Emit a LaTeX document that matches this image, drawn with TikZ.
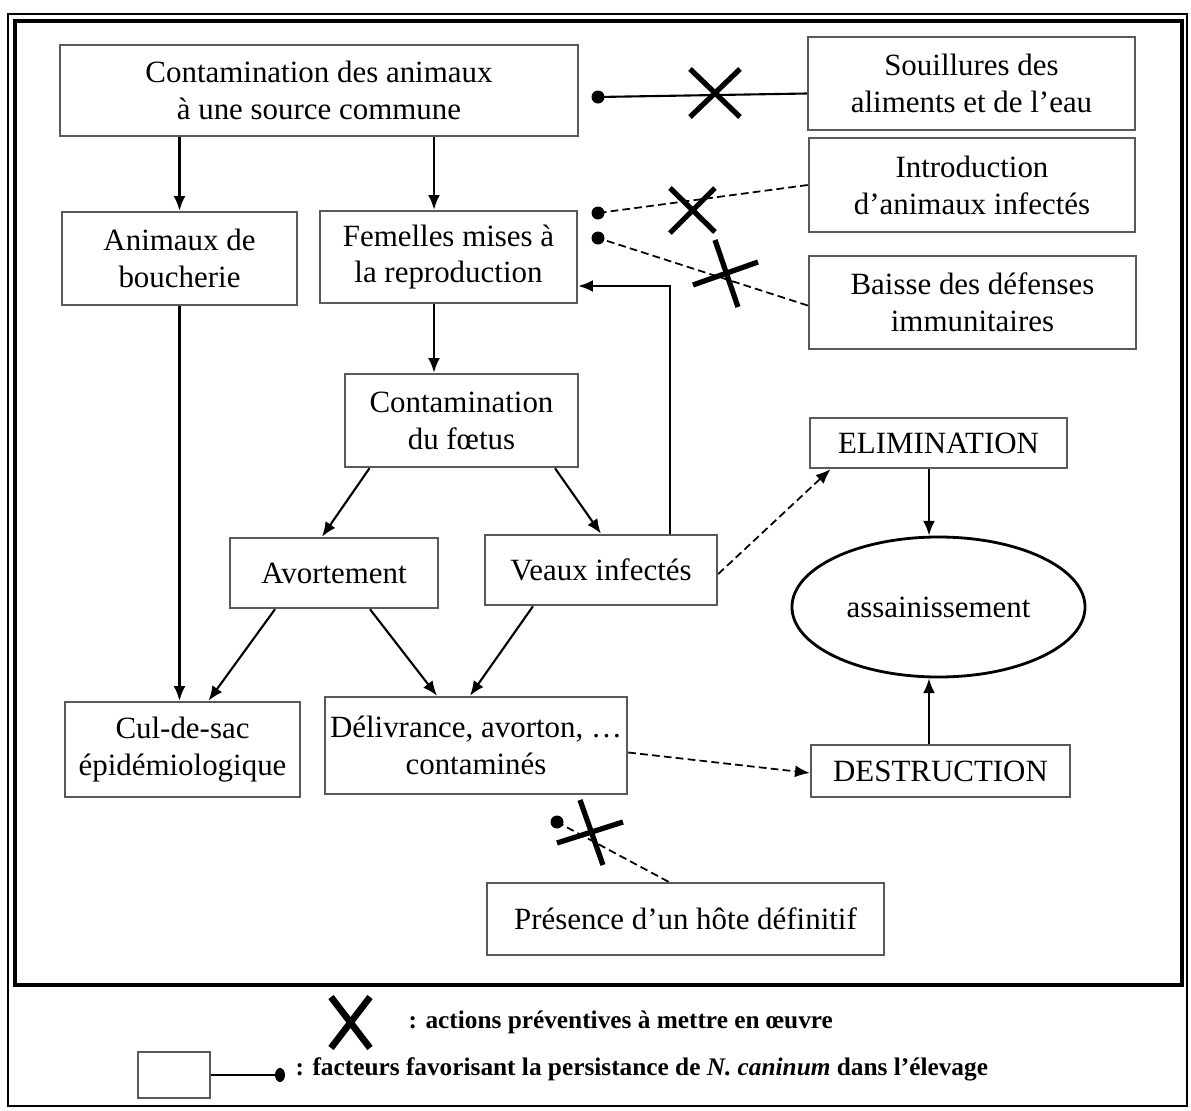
\documentclass[tikz,border=0pt]{standalone}
\usepackage{fontspec}
\setmainfont{Liberation Serif}
\usetikzlibrary{arrows.meta,shapes.geometric}
\newcommand{\txtsz}{\fontsize{8.8}{10.5}\selectfont}
\newcommand{\legsz}{\fontsize{7.2}{9}\selectfont\bfseries}

\begin{document}
\begin{tikzpicture}[
		>={Latex[length=4.2pt,width=3.4pt]},
		box/.style={draw=black!65, line width=0.7pt, align=center, inner sep=0pt, font=\txtsz},
		fleche/.style={->, line width=0.6pt},
		pointille/.style={line width=0.5pt, dash pattern=on 2.2pt off 1.2pt},
		croix/.style={line width=1.5pt},
		point/.style={fill=black}
	]
				
				\useasboundingbox (0,0) rectangle (11.91,-11.11);
				\draw[line width=0.6pt] (0.08,-0.14) rectangle (11.87,-11.06);
				\draw[line width=1.4pt] (0.15,-0.21) rectangle (11.82,-9.85);
				
				\node[box, minimum width=5.18cm, minimum height=0.91cm] (src) at (3.19,-0.905) {Contamination des animaux\\à une source commune};
				\node[box, minimum width=3.27cm, minimum height=0.93cm] (souil) at (9.715,-0.835) {Souillures des\\aliments et de l’eau};
				\node[box, minimum width=3.26cm, minimum height=0.94cm] (intro) at (9.72,-1.85) {Introduction\\d’animaux infectés};
				\node[box, minimum width=3.27cm, minimum height=0.93cm] (baisse) at (9.725,-3.025) {Baisse des défenses\\immunitaires};
				
				\node[box, minimum width=2.35cm, minimum height=0.93cm] (bouch) at (1.795,-2.585) {Animaux de\\boucherie};
				\node[box, minimum width=2.57cm, minimum height=0.92cm] (fem) at (4.485,-2.57) {Femelles mises à\\la reproduction};
				\node[box, minimum width=2.33cm, minimum height=0.93cm] (foetus) at (4.615,-4.205) {Contamination\\du fœtus};
				\node[box, minimum width=2.57cm, minimum height=0.50cm] (elim) at (9.385,-4.43) {ELIMINATION};
				
				\node[box, minimum width=2.08cm, minimum height=0.70cm] (avort) at (3.34,-5.73) {Avortement};
				\node[box, minimum width=2.32cm, minimum height=0.70cm] (veaux) at (6.01,-5.70) {Veaux infectés};
				\node[draw, ellipse, line width=0.8pt, minimum width=2.6cm, minimum height=1.4cm, font=\txtsz] (assain) at (9.385,-6.07) {assainissement};
				
				\node[box, minimum width=2.35cm, minimum height=0.95cm] (culdesac) at (1.825,-7.495) {Cul-de-sac\\épidémiologique};
				\node[box, minimum width=3.02cm, minimum height=0.97cm] (deliv) at (4.76,-7.455) {Délivrance, avorton, …\\contaminés};
				\node[box, minimum width=2.59cm, minimum height=0.52cm] (destr) at (9.405,-7.71) {DESTRUCTION};
				\node[box, minimum width=3.97cm, minimum height=0.72cm] (hote) at (6.855,-9.19) {Présence d’un hôte définitif};
				
				\draw[fleche] (src.south -| bouch.north) -- (bouch.north);
				\draw[fleche] (src.south -| 4.34,0) -- (fem.north -| 4.34,0);
				\draw[fleche] (fem.south -| 4.34,0) -- (foetus.north -| 4.34,0);
				\draw[fleche] ([xshift=-0.92cm]foetus.south) -- ([xshift=-0.12cm]avort.north);
				\draw[fleche] ([xshift=0.935cm]foetus.south) -- (veaux.north);
				\draw[fleche] (veaux.north -| 6.70,0) |- ([yshift=-0.29cm]fem.east);
				\draw[fleche] (bouch.south) -- (culdesac.north -| bouch.south);
				\draw[fleche] ([xshift=-0.59cm]avort.south) -- ([xshift=0.26cm]culdesac.north);
				\draw[fleche] ([xshift=0.36cm]avort.south) -- ([xshift=-0.39cm]deliv.north);
				\draw[fleche] ([xshift=-0.68cm]veaux.south) -- ([xshift=-0.06cm]deliv.north);
				\draw[fleche, pointille] ([yshift=-0.04cm]veaux.east) -- ([xshift=-1.08cm]elim.south);
				\draw[fleche, pointille] ([yshift=-0.07cm]deliv.east) -- ([yshift=-0.02cm]destr.west);
				\draw[fleche] (elim.south -| 9.29,0) -- (assain.north -| 9.29,0);
				\draw[fleche] (destr.north -| 9.29,0) -- (assain.south -| 9.29,0);
				
				\coordinate (dSouil) at (5.98,-0.97);
				\coordinate (dIntro) at (5.98,-2.13);
				\coordinate (dBaisse) at (5.98,-2.38);
				\coordinate (dHote) at (5.57,-8.22);
				\draw[line width=0.6pt] ([yshift=-0.1cm]souil.west) -- (dSouil);
				\draw[pointille] (intro.west) -- (dIntro);
				\draw[pointille] ([yshift=-0.03cm]baisse.west) -- (dBaisse);
				\draw[pointille] ([xshift=-0.17cm]hote.north) -- (dHote);
				\fill[point] (dSouil) circle (0.065);
				\fill[point] (dIntro) circle (0.065);
				\fill[point] (dBaisse) circle (0.065);
				\fill[point] (dHote) circle (0.065);
				
				\draw[croix] (6.90,-0.69) -- (7.40,-1.17);
				\draw[croix] (6.90,-1.17) -- (7.40,-0.69);
				\draw[croix] (6.70,-1.88) -- (7.15,-2.32);
				\draw[croix] (6.70,-2.33) -- (7.15,-1.88);
				\draw[croix] (7.15,-2.40) -- (7.38,-3.07);
				\draw[croix] (6.93,-2.85) -- (7.58,-2.62);
				\draw[croix] (5.80,-8.00) -- (6.03,-8.65);
				\draw[croix] (5.57,-8.43) -- (6.23,-8.22);
				
				\draw[line width=1.9pt] (3.31,-9.97) -- (3.70,-10.48);
				\draw[line width=1.9pt] (3.31,-10.48) -- (3.70,-9.97);
				\node[anchor=west, font=\legsz, inner sep=0pt] (legX) at (4.08,-10.22) {: actions préventives à mettre en œuvre};
				\node[draw=black!65, line width=0.6pt, minimum width=0.72cm, minimum height=0.46cm, inner sep=0pt] (legBox) at (1.74,-10.75) {};
				\coordinate (legDot) at (2.80,-10.75);
				\draw[line width=0.8pt] (legBox.east) -- (legDot);
				\fill[point] (legDot) ellipse (0.05 and 0.07);
				\node[anchor=west, font=\legsz, inner sep=0pt] (legF) at (2.95,-10.69) {: facteurs favorisant la persistance de \textit{N. caninum} dans l’élevage};
				
\end{tikzpicture}
\end{document}
